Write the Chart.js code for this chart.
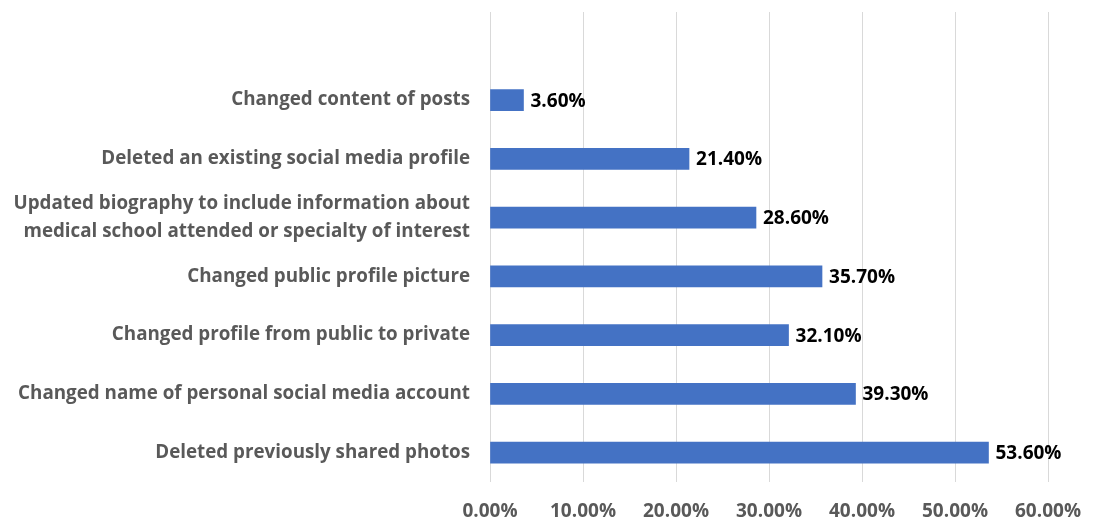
<!DOCTYPE html>
<html>
<head>
<meta charset="utf-8">
<script src="https://cdn.jsdelivr.net/npm/chart.js@4"></script>
<style>
html,body{margin:0;padding:0;background:#fff;}
#wrap{width:1099px;height:523px;position:relative;}
</style>
</head>
<body>
<div id="wrap"><canvas id="c" width="1099" height="523"></canvas></div>
<script>
// Categories, top to bottom (first is an empty slot kept blank in the original)
const categories = [
  "",
  "Changed content of posts",
  "Deleted an existing social media profile",
  ["Updated biography to include information about", "medical school attended or specialty of interest"],
  "Changed public profile picture",
  "Changed profile from public to private",
  "Changed name of personal social media account",
  "Deleted previously shared photos"
];
const values = [null, 3.6, 21.4, 28.6, 35.7, 32.1, 39.3, 53.6];
const xTicks = [0, 10, 20, 30, 40, 50, 60];

const FONT = "'Open Sans', sans-serif";

const valueLabels = {
  id: 'valueLabels',
  afterDatasetsDraw(chart) {
    const ctx = chart.ctx;
    const meta = chart.getDatasetMeta(0);
    ctx.save();
    ctx.font = "bold 19px " + FONT;
    ctx.fillStyle = "#000000";
    ctx.textAlign = "left";
    ctx.textBaseline = "middle";
    meta.data.forEach((bar, i) => {
      const v = values[i];
      if (v === null || v === undefined) return;
      ctx.fillText(v.toFixed(2) + "%", bar.x + 7, bar.y + 1);
    });
    ctx.restore();
  }
};

new Chart(document.getElementById('c'), {
  type: 'bar',
  data: {
    labels: categories,
    datasets: [{
      data: values,
      backgroundColor: '#4472C4',
      borderWidth: 0,
      barThickness: 21
    }]
  },
  options: {
    indexAxis: 'y',
    responsive: false,
    animation: false,
    layout: { padding: { top: 12, right: 49, bottom: 0, left: 0 } },
    plugins: { legend: { display: false }, tooltip: { enabled: false } },
    scales: {
      x: {
        min: 0, max: 60,
        afterBuildTicks(scale) { scale.ticks = xTicks.map(v => ({ value: v })); },
        afterFit(scale) { scale.height = 41; },
        ticks: {
          callback: v => v.toFixed(2) + "%",
          color: '#595959',
          font: { family: FONT, size: 19, weight: 'bold' },
          padding: 18,
          maxRotation: 0
        },
        grid: { color: '#d9d9d9', lineWidth: 1, drawTicks: false },
        border: { display: false }
      },
      y: {
        afterFit(scale) { scale.width = 490; scale.paddingTop = 0; scale.paddingBottom = 0; },
        ticks: {
          color: '#595959',
          font: { family: FONT, size: 18.8, weight: 'bold', lineHeight: 1.48 },
          padding: 20,
          autoSkip: false
        },
        grid: { display: false, drawTicks: false },
        border: { display: false }
      }
    }
  },
  plugins: [valueLabels]
});
</script>
</body>
</html>
